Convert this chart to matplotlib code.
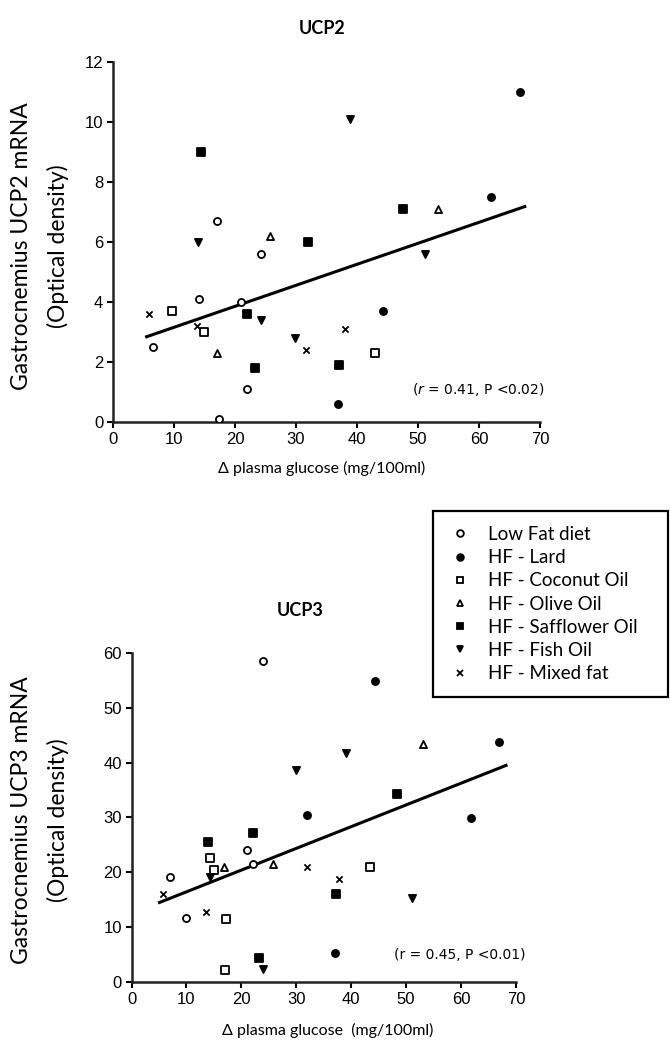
import matplotlib.pyplot as plt
from matplotlib.lines import Line2D
from matplotlib.patches import Rectangle

plt.rcParams['font.family'] = ['Lato', 'DejaVu Sans']

# group names and marker styles
groups = ['Low Fat diet', 'HF - Lard', 'HF - Coconut Oil', 'HF - Olive Oil',
          'HF - Safflower Oil', 'HF - Fish Oil', 'HF - Mixed fat']
markers = ['o', 'o', 's', '^', 's', 'v', 'x']
filled = [False, True, False, False, True, True, True]

# UCP2 data (x = delta plasma glucose, y = optical density)
ucp2_x = {
    'Low Fat diet': [6.6, 14.1, 21.0, 22.0, 17.3, 24.2, 17.1],
    'HF - Lard': [44.2, 36.8, 66.7, 62.0],
    'HF - Coconut Oil': [9.6, 14.9, 43.0],
    'HF - Olive Oil': [17.0, 25.8, 53.2],
    'HF - Safflower Oil': [22.0, 23.3, 32.0, 14.5, 47.6, 37.1],
    'HF - Fish Oil': [24.2, 29.8, 13.9, 38.9, 51.1],
    'HF - Mixed fat': [5.9, 13.7, 31.7, 38.0],
}
ucp2_y = {
    'Low Fat diet': [2.5, 4.1, 4.0, 1.1, 0.1, 5.6, 6.7],
    'HF - Lard': [3.7, 0.6, 11.0, 7.5],
    'HF - Coconut Oil': [3.7, 3.0, 2.3],
    'HF - Olive Oil': [2.3, 6.2, 7.1],
    'HF - Safflower Oil': [3.6, 1.8, 6.0, 9.0, 7.1, 1.9],
    'HF - Fish Oil': [3.4, 2.8, 6.0, 10.1, 5.6],
    'HF - Mixed fat': [3.6, 3.2, 2.4, 3.1],
}
ucp2_fit_x = [5.5, 67.5]
ucp2_fit_y = [2.84, 7.18]

# UCP3 data
ucp3_x = {
    'Low Fat diet': [7.0, 9.9, 21.0, 22.1, 23.9],
    'HF - Lard': [31.9, 37.1, 44.4, 66.9, 61.9],
    'HF - Coconut Oil': [14.3, 15.0, 17.2, 17.1, 43.4],
    'HF - Olive Oil': [16.8, 25.8, 53.0],
    'HF - Safflower Oil': [14.0, 22.1, 23.2, 37.3, 48.3],
    'HF - Fish Oil': [14.3, 24.0, 29.9, 39.1, 51.0],
    'HF - Mixed fat': [5.7, 13.6, 32.0, 37.8],
}
ucp3_y = {
    'Low Fat diet': [19.1, 11.7, 24.1, 21.5, 58.6],
    'HF - Lard': [30.5, 5.2, 54.9, 43.7, 29.9],
    'HF - Coconut Oil': [22.6, 20.4, 11.5, 2.2, 21.0],
    'HF - Olive Oil': [20.9, 21.5, 43.4],
    'HF - Safflower Oil': [25.5, 27.2, 4.4, 16.1, 34.3],
    'HF - Fish Oil': [19.1, 2.4, 38.7, 41.8, 15.4],
    'HF - Mixed fat': [16.0, 12.8, 20.9, 18.8],
}
ucp3_fit_x = [5.1, 68.2]
ucp3_fit_y = [14.5, 39.5]

W, H = 670, 1047
fig = plt.figure(figsize=(6.7, 10.47), dpi=100)
ax1 = fig.add_axes([0.1687, 0.597, 0.6373, 0.3438])
ax2 = fig.add_axes([0.1963, 0.0621, 0.5737, 0.3142])


def draw(ax, xs, ys, fx, fy):
    for g, m, f in zip(groups, markers, filled):
        if m == 'x':
            ax.scatter(xs[g], ys[g], marker='x', s=20, c='black', linewidths=1.3, zorder=3)
        else:
            ax.scatter(xs[g], ys[g], marker=m, s=26, facecolors='black' if f else 'white',
                       edgecolors='black', linewidths=1.3, zorder=3)
    ax.plot(fx, fy, color='black', lw=2.2, zorder=2)
    ax.set_xlim(0, 70)
    ax.set_xticks(range(0, 80, 10))
    for s in ['top', 'right']:
        ax.spines[s].set_visible(False)
    for s in ['left', 'bottom']:
        ax.spines[s].set_linewidth(1.8)
        ax.spines[s].set_color('#222222')
    ax.tick_params(direction='out', length=4, width=1.5, labelsize=12, pad=3)


draw(ax1, ucp2_x, ucp2_y, ucp2_fit_x, ucp2_fit_y)
ax1.set_ylim(0, 12)
ax1.set_yticks(range(0, 14, 2))
ax1.text(70.8, 1.07, r'($\it{r}$ = 0.41, P <0.02)', ha='right', va='center', fontsize=10,
         family='DejaVu Sans')

draw(ax2, ucp3_x, ucp3_y, ucp3_fit_x, ucp3_fit_y)
ax2.set_ylim(0, 60)
ax2.set_yticks(range(0, 70, 10))
ax2.text(71.7, 4.9, '(r = 0.45, P <0.01)', ha='right', va='center', fontsize=10,
         family='DejaVu Sans')

for a in (ax1, ax2):
    for lab in a.get_xticklabels() + a.get_yticklabels():
        lab.set_family(['Liberation Sans', 'DejaVu Sans'])

# titles and axis labels
fig.text(322 / W, 1 - 28 / H, 'UCP2', ha='center', va='center', fontsize=13, fontweight='bold')
fig.text(300 / W, 1 - 611 / H, 'UCP3', ha='center', va='center', fontsize=13, fontweight='bold')
fig.text(322 / W, 1 - 468 / H, 'Δ plasma glucose (mg/100ml)', ha='center', va='center', fontsize=11.5)
fig.text(328 / W, 1 - 1030 / H, 'Δ plasma glucose  (mg/100ml)', ha='center', va='center', fontsize=11.5)
fig.text(22 / W, 1 - 246 / H, 'Gastrocnemius UCP2 mRNA', rotation=90, ha='center', va='center', fontsize=16.5)
fig.text(58 / W, 1 - 246 / H, '(Optical density)', rotation=90, ha='center', va='center', fontsize=16.5)
fig.text(22 / W, 1 - 820 / H, 'Gastrocnemius UCP3 mRNA', rotation=90, ha='center', va='center', fontsize=16.5)
fig.text(58 / W, 1 - 820 / H, '(Optical density)', rotation=90, ha='center', va='center', fontsize=16.5)

# legend with a separate frame
fig.patches.append(Rectangle((433 / W, 1 - 697 / H), 235 / W, 186 / H, transform=fig.transFigure,
                             fill=False, edgecolor='black', linewidth=1.6))
handles = []
for g, m, f in zip(groups, markers, filled):
    handles.append(Line2D([], [], ls='none', marker=m, markersize=4.8,
                          markerfacecolor='black' if f else 'white',
                          markeredgecolor='black', markeredgewidth=1.3))
fig.legend(handles, groups, loc='upper left', bbox_to_anchor=(451 / W, 1 - 526 / H),
           frameon=False, fontsize=13.5, borderaxespad=0, borderpad=0,
           handlelength=1.0, handletextpad=0.95, labelspacing=0.33)

fig.savefig('out.png', dpi=100)
